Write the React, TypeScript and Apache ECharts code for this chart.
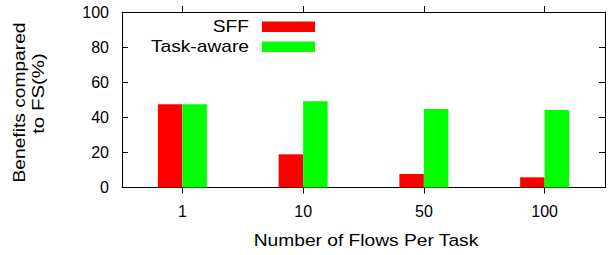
import React, { useEffect, useRef } from "react";
import * as echarts from "echarts";

const categories = ["1", "10", "50", "100"];
const sffValues = [47.5, 18.9, 7.7, 5.8];
const taskAwareValues = [47.5, 49.2, 44.7, 44.1];
const seriesNames = ["SFF", "Task-aware"];
const yTicks = { min: 0, max: 100, interval: 20 };
const xTitle = "Number of Flows Per Task";
const yTitleLines = ["Benefits compared", "to FS(%)"];

const FONT = "'Liberation Sans', Arial, Helvetica, sans-serif";
const RED = "#ff0000";
const GREEN = "#00ff00";
const SX = 1.2;

export default function App() {
  const ref = useRef<HTMLDivElement>(null);
  useEffect(() => {
    if (!ref.current) return;
    const chart = echarts.init(ref.current, undefined, { renderer: "svg" });
    const axisLine = { show: true, onZero: false, lineStyle: { color: "#000", width: 1 } };
    const option: any = {
      animation: false,
      backgroundColor: "#fff",
      textStyle: { fontFamily: FONT },
      grid: { left: 122, right: 11, top: 12, bottom: 67.5, containLabel: false },
      xAxis: [
        {
          type: "category",
          data: categories,
          position: "bottom",
          axisLine,
          axisTick: { show: true, inside: false, length: 6, alignWithLabel: true, lineStyle: { color: "#000" } },
          axisLabel: { fontSize: 16, color: "#000", margin: 16, fontFamily: FONT },
          splitLine: { show: false },
        },
        {
          type: "category",
          data: categories,
          position: "top",
          axisLine,
          axisTick: { show: true, inside: false, length: 6, alignWithLabel: true, lineStyle: { color: "#000" } },
          axisLabel: { show: false },
          splitLine: { show: false },
        },
      ],
      yAxis: [
        {
          type: "value",
          min: yTicks.min,
          max: yTicks.max,
          interval: yTicks.interval,
          position: "left",
          axisLine,
          axisTick: { show: true, inside: true, length: 6, lineStyle: { color: "#000" } },
          axisLabel: { fontSize: 16, color: "#000", margin: 13, fontFamily: FONT },
          splitLine: { show: false },
        },
        {
          type: "value",
          min: yTicks.min,
          max: yTicks.max,
          interval: yTicks.interval,
          position: "right",
          axisLine,
          axisTick: { show: true, inside: true, length: 6, lineStyle: { color: "#000" } },
          axisLabel: { show: false },
          splitLine: { show: false },
        },
      ],
      series: [
        {
          name: seriesNames[0],
          type: "bar",
          data: sffValues,
          barWidth: 24.5,
          barGap: "0%",
          itemStyle: { color: RED },
        },
        {
          name: seriesNames[1],
          type: "bar",
          data: taskAwareValues,
          barWidth: 24.5,
          barGap: "0%",
          itemStyle: { color: GREEN },
        },
      ],
      graphic: [
        {
          type: "text",
          x: 20,
          y: 102.5,
          rotation: Math.PI / 2,
          scaleX: SX,
          style: { text: yTitleLines[0], font: `16px ${FONT}`, fill: "#000", align: "center", verticalAlign: "middle" },
        },
        {
          type: "text",
          x: 38.5,
          y: 93.5,
          rotation: Math.PI / 2,
          scaleX: 1.28,
          style: { text: yTitleLines[1], font: `16px ${FONT}`, fill: "#000", align: "center", verticalAlign: "middle" },
        },
        {
          type: "text",
          x: 366,
          y: 241,
          scaleX: SX,
          style: { text: xTitle, font: `16px ${FONT}`, fill: "#000", align: "center", verticalAlign: "middle" },
        },
        {
          type: "text",
          x: 249,
          y: 26.7,
          scaleX: SX,
          style: { text: seriesNames[0], font: `16px ${FONT}`, fill: "#000", align: "right", verticalAlign: "middle" },
        },
        {
          type: "rect",
          shape: { x: 262, y: 21.5, width: 53, height: 10.5 },
          style: { fill: RED },
        },
        {
          type: "text",
          x: 249,
          y: 46.7,
          scaleX: SX,
          style: { text: seriesNames[1], font: `16px ${FONT}`, fill: "#000", align: "right", verticalAlign: "middle" },
        },
        {
          type: "rect",
          shape: { x: 262, y: 41.5, width: 53, height: 10.5 },
          style: { fill: GREEN },
        },
      ],
    };
    chart.setOption(option);
    return () => chart.dispose();
  }, []);
  return (
    <div
      ref={ref}
      style={{ position: "fixed", left: 0, top: 0, width: 616, height: 255, background: "#fff" }}
    />
  );
}
